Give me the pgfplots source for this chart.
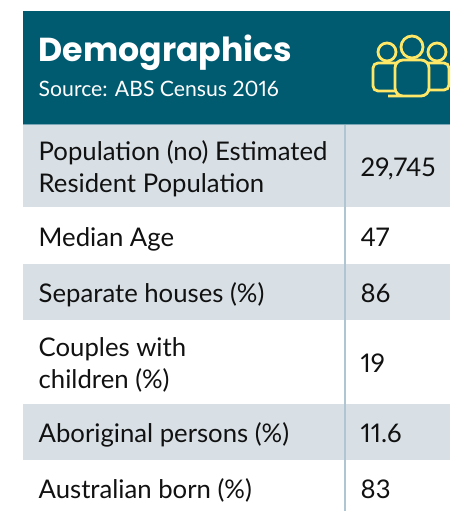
\documentclass[border=0pt]{standalone}
\usepackage{fontspec}
\setmainfont{Lato}[Numbers=Proportional]
\newfontfamily\titlefont{Poppins}
\usepackage{pgfplots}
\pgfplotsset{compat=1.18}
\definecolor{teal}{HTML}{005B70}
\definecolor{rowgrey}{HTML}{D8E0E6}
\definecolor{rule}{HTML}{AFC6D2}
\definecolor{iconyellow}{HTML}{FFE768}
\definecolor{txt}{HTML}{111111}
\newcommand{\lab}[3]{\node[anchor=base west,text=txt,font=\fontsize{25.7}{25.7}\selectfont,inner sep=0pt] at (axis cs:#1,#2) {#3};}
\begin{document}
\begin{tikzpicture}
\path[use as bounding box, fill=white] (0,0) rectangle (450pt,511pt);
\begin{axis}[
  at={(0,0)}, anchor=south west,
  hide axis,
  scale only axis,
  width=450pt, height=511pt,
  xmin=0, xmax=450,
  ymin=0, ymax=511,
  y dir=reverse,
]
  % header and grey rows
  \addplot[fill=teal, draw=none] coordinates {(23,11) (450,11) (450,124) (23,124)} -- cycle;
  \addplot[fill=rowgrey, draw=none] coordinates {(23,124) (450,124) (450,207) (23,207)} -- cycle;
  \addplot[fill=rowgrey, draw=none] coordinates {(23,264) (450,264) (450,320) (23,320)} -- cycle;
  \addplot[fill=rowgrey, draw=none] coordinates {(23,404) (450,404) (450,460) (23,460)} -- cycle;
  % column rule
  \addplot[rule, line width=2pt] coordinates {(345,124) (345,511)};
  \addplot[rule!70!teal, line width=1pt] coordinates {(23,124) (450,124)};

  \node[anchor=base west,text=white,inner sep=0pt,font=\fontsize{33.2}{33.2}\selectfont\titlefont\bfseries] at (axis cs:38.5,61) {Demographics};
  \node[anchor=base west,text=white,inner sep=0pt,font=\fontsize{21.2}{21.2}\selectfont] at (axis cs:38.5,96) {Source: ABS Census 2016};

  \lab{38.5}{160}{Population (no) Estimated}
  \lab{38.5}{192}{Resident Population}
  \lab{38.5}{246}{Median Age}
  \lab{38.5}{302}{Separate houses (\%)}
  \lab{38.5}{356}{Couples with}
  \lab{38.5}{388}{children (\%)}
  \lab{38.5}{442}{Aboriginal persons (\%)}
  \lab{38.5}{498}{Australian born (\%)}

  \lab{360.5}{176}{29,745}
  \lab{360.5}{246}{47}
  \lab{360.5}{302}{86}
  \lab{360.5}{372}{19}
  \lab{360.5}{442}{11.6}
  \lab{360.5}{498}{83}

  % people icon
  \draw[iconyellow, line width=2.8pt] (axis cs:387,52) circle[radius=9pt];
  \draw[iconyellow, line width=2.8pt] (axis cs:437,52) circle[radius=9pt];
  \draw[iconyellow, line width=2.8pt] (axis cs:412,47) circle[radius=11pt];
  \draw[iconyellow, line width=2.8pt, rounded corners=5pt] (axis cs:395,91) -- (axis cs:373,91) -- (axis cs:373,63) -- (axis cs:396,63);
  \draw[iconyellow, line width=2.8pt, rounded corners=5pt] (axis cs:429,90) -- (axis cs:449,90) -- (axis cs:449,63) -- (axis cs:427,63);
  \draw[iconyellow, line width=2.8pt, rounded corners=8pt] (axis cs:396,96) -- (axis cs:429,96) -- (axis cs:429,60) -- (axis cs:395,60) -- (axis cs:395,96) -- cycle;
\end{axis}
\end{tikzpicture}
\end{document}
